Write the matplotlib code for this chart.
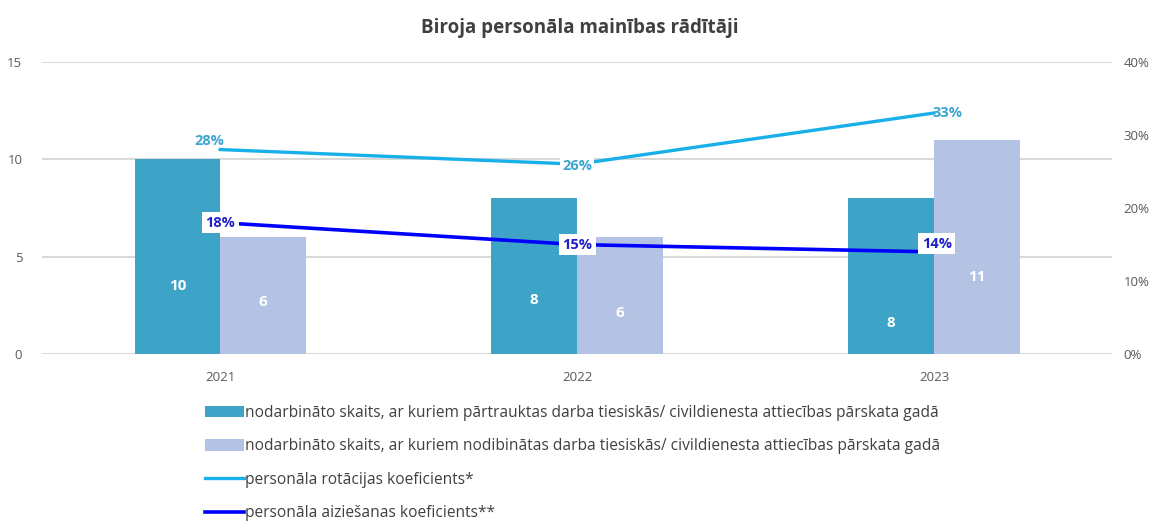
import matplotlib.pyplot as plt
import numpy as np
from matplotlib.ticker import PercentFormatter

# data
years = ["2021", "2022", "2023"]
terminated = [10, 8, 8]
hired = [6, 6, 11]
rotation = [28, 26, 33]
leaving = [18, 15, 14]

legend_labels = [
    "nodarbināto skaits, ar kuriem pārtrauktas darba tiesiskās/ civildienesta attiecības pārskata gadā",
    "nodarbināto skaits, ar kuriem nodibinātas darba tiesiskās/ civildienesta attiecības pārskata gadā",
    "personāla rotācijas koeficients*",
    "personāla aiziešanas koeficients**",
]

# where the white numbers sit inside the bars (fraction of bar height)
term_label_pos = [0.35, 0.35, 0.2]
hired_label_pos = [0.45, 0.35, 0.36]

C_DARK = "#3ea4c7"
C_LIGHT = "#b4c3e4"
C_ROT = "#19b0ea"
C_LEAVE = "#0000ff"
C_GRID = "#d9d9d9"
C_TICK = "#595959"

plt.rcParams["font.family"] = ["Open Sans", "DejaVu Sans"]

fig = plt.figure(figsize=(11.6, 5.24), dpi=100)
ax = fig.add_axes([0.036, 0.324, 0.923, 0.558])
ax2 = ax.twinx()

x = np.arange(len(years))
w = 0.24

b1 = ax.bar(x - w / 2, terminated, w, color=C_DARK, zorder=2)
b2 = ax.bar(x + w / 2, hired, w, color=C_LIGHT, zorder=2)

for i in range(len(years)):
    ax.text(x[i] - w / 2, terminated[i] * term_label_pos[i], str(terminated[i]),
            ha="center", va="center", color="white", fontsize=11, fontweight="bold", zorder=3)
    ax.text(x[i] + w / 2, hired[i] * hired_label_pos[i], str(hired[i]),
            ha="center", va="center", color="white", fontsize=11, fontweight="bold", zorder=3)

ax.set_xlim(-0.5, 2.5)
ax.set_ylim(0, 15)
ax.set_yticks([0, 5, 10, 15])
ax.yaxis.grid(True, color=C_GRID, linewidth=1.5, zorder=0)
ax.set_axisbelow(True)
ax.set_xticks(x)
ax.set_xticklabels(years)
for a in (ax, ax2):
    for s in a.spines.values():
        s.set_visible(False)
    a.tick_params(length=0, colors=C_TICK, labelsize=9.5)
ax.tick_params(axis="y", pad=14)
ax.tick_params(axis="x", pad=12)

l1, = ax2.plot(x, rotation, color=C_ROT, linewidth=2.4, zorder=4)
l2, = ax2.plot(x, leaving, color=C_LEAVE, linewidth=2.6, zorder=4)
ax2.set_ylim(0, 40)
ax2.set_yticks([0, 10, 20, 30, 40])
ax2.yaxis.set_major_formatter(PercentFormatter(decimals=0))
ax2.tick_params(axis="y", pad=8)

lbl_kw = dict(fontsize=10.5, fontweight="bold", ha="center", va="center", zorder=5)
# rotation labels
ax2.annotate(f"{rotation[0]}%", (x[0], rotation[0]), xytext=(-8, 6), textcoords="offset points",
             color="#3aa5d0", **lbl_kw)
ax2.annotate(f"{rotation[1]}%", (x[1], rotation[1]), xytext=(0, -1), textcoords="offset points",
             color="#3aa5d0", bbox=dict(fc="white", ec="none", pad=1.5), **lbl_kw)
ax2.annotate(f"{rotation[2]}%", (x[2], rotation[2]), xytext=(10, 0), textcoords="offset points",
             color="#3aa5d0", **lbl_kw)
# leaving labels
leave_offsets = [(0, 0), (0, 0), (2, 6)]
for i in range(len(years)):
    ax2.annotate(f"{leaving[i]}%", (x[i], leaving[i]), xytext=leave_offsets[i], textcoords="offset points",
                 color="#1f1fc8", bbox=dict(fc="white", ec="none", pad=2.5), **lbl_kw)

fig.text(0.5, 0.947, "Biroja personāla mainības rādītāji", ha="center", va="center",
         fontsize=13.5, fontweight="bold", color="#404040")

fig.legend([b1, b2, l1, l2], legend_labels, loc="upper left", bbox_to_anchor=(0.17, 0.242),
           frameon=False, ncol=1, fontsize=11.2, handlelength=2.5, handleheight=0.75,
           handletextpad=0.05, labelspacing=1.12, labelcolor="#404040", borderpad=0)

fig.savefig("out.png", dpi=100)
